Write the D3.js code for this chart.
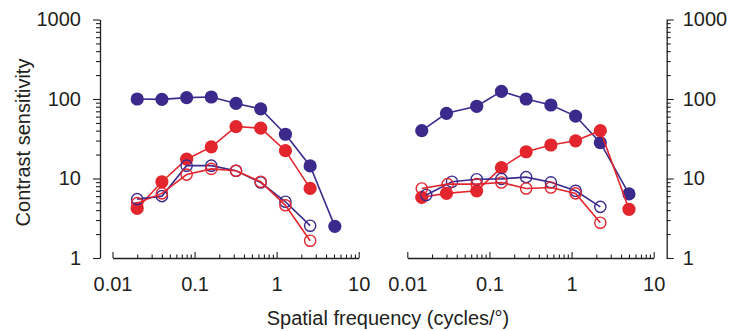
<!DOCTYPE html>
<html>
<head>
<meta charset="utf-8">
<script src="https://cdn.jsdelivr.net/npm/d3@7/dist/d3.min.js"></script>
<style>
  html, body { margin: 0; padding: 0; background: #fff; }
  svg { display: block; }
  text { font-family: "Liberation Sans", Arial, Helvetica, sans-serif; fill: #231f20; }
</style>
</head>
<body>
<svg id="chart" width="729" height="331"></svg>
<script>
// Spatial frequencies (cycles/deg) for each panel
const leftFreq = [0.02, 0.04, 0.08, 0.16, 0.32, 0.64, 1.28, 2.56, 5.12];
const rightFreq = [0.015, 0.03, 0.07, 0.14, 0.28, 0.56, 1.12, 2.24, 5.0];
const rightFreqOpenBlue = [0.017, 0.035, 0.07, 0.14, 0.28, 0.56, 1.12, 2.24];
const rightFreqOpenRed = [0.015, 0.031, 0.07, 0.14, 0.28, 0.56, 1.12, 2.24];

// Contrast sensitivity, left panel
const leftBlueFilled = [100, 99, 104, 106, 88, 75, 36, 14.4, 2.5];
const leftRedFilled = [4.2, 9.1, 17.5, 25, 45, 43, 22.4, 7.5];
const leftBlueOpen = [5.5, 6.0, 14.5, 14.5, 12.5, 8.9, 5.1, 2.55];
const leftRedOpen = [4.9, 6.5, 11.2, 13.2, 12.5, 9.1, 4.6, 1.65];

// Contrast sensitivity, right panel
const rightBlueFilled = [40, 66, 81, 125, 100, 84, 61, 28.2, 6.4];
const rightRedFilled = [5.8, 6.5, 7.0, 13.7, 21.7, 26.4, 29.8, 40, 4.1];
const rightBlueOpen = [6.2, 9.1, 9.8, 9.9, 10.4, 8.95, 7.0, 4.4];
const rightRedOpen = [7.5, 8.5, 8.5, 8.9, 7.5, 7.7, 6.5, 2.78];

// Axis ticks
const xTickLabels = ["0.01", "0.1", "1", "10"];
const xMajor = [0.01, 0.1, 1, 10];
const yTickLabels = ["1", "10", "100", "1000"];
const yMajor = [1, 10, 100, 1000];

const BLUE = "#3b2a8c";
const RED = "#e3262e";
const FONT = 20;

const svg = d3.select("#chart");

const y = d3.scaleLog().domain([1, 1000]).range([258, 19.5]);
const xLeft = d3.scaleLog().domain([0.01, 10]).range([112.5, 358.7]);
const xRight = d3.scaleLog().domain([0.01, 10]).range([407.3, 653.7]);

// minor ticks: 2..9 within each decade
function logTicks(lo, hi) {
  const out = [];
  for (let d = lo; d < hi; d *= 10) {
    for (let k = 1; k < 10; k++) out.push(+(d * k).toPrecision(3));
  }
  out.push(hi);
  return out;
}
const xAll = logTicks(0.01, 10);
const yAll = logTicks(1, 1000);
const isMajor = (list, v) => list.some(m => Math.abs(m - v) / m < 1e-6);

function styleAxis(g) {
  g.selectAll("path.domain").attr("stroke", "#231f20").attr("stroke-width", 1.3);
  g.selectAll(".tick line").attr("stroke", "#231f20").attr("stroke-width", 1.1);
  g.selectAll(".tick text").attr("font-size", FONT).style("font-family", "'Liberation Sans', Arial, sans-serif").attr("fill", "#231f20");
}

function drawXAxis(xs) {
  const ax = d3.axisBottom(xs)
    .tickValues(xAll)
    .tickSizeInner(-6)
    .tickSizeOuter(0)
    .tickPadding(19)
    .tickFormat(d => {
      const i = xMajor.findIndex(m => Math.abs(m - d) / m < 1e-6);
      return i >= 0 ? xTickLabels[i] : "";
    });
  const g = svg.append("g").attr("transform", "translate(0,258)").call(ax);
  g.selectAll(".tick line").attr("y2", d => isMajor(xMajor, d) ? -6 : -3.5);
  styleAxis(g);
}

function drawYAxis(xPos, side) {
  const ax = (side === "left" ? d3.axisLeft(y) : d3.axisRight(y))
    .tickValues(yAll)
    .tickSizeInner(7)
    .tickSizeOuter(0)
    .tickPadding(side === "left" ? 12 : 9)
    .tickFormat(d => {
      const i = yMajor.findIndex(m => Math.abs(m - d) / m < 1e-6);
      return i >= 0 ? yTickLabels[i] : "";
    });
  const g = svg.append("g").attr("transform", `translate(${xPos},0)`).call(ax);
  const sgn = side === "left" ? -1 : 1;
  g.selectAll(".tick line").attr("x2", d => sgn * (isMajor(yMajor, d) ? 7 : 4));
  styleAxis(g);
}

drawYAxis(100, "left");
drawXAxis(xLeft);
drawXAxis(xRight);
drawYAxis(666.7, "right");

function series(xs, freqs, vals, color, filled) {
  const pts = vals.map((v, i) => [freqs[i], v]);
  const line = d3.line().x(d => xs(d[0])).y(d => y(d[1]));
  const g = svg.append("g");
  g.append("path")
    .attr("d", line(pts))
    .attr("fill", "none")
    .attr("stroke", color)
    .attr("stroke-width", 1.6);
  g.selectAll("circle").data(pts).join("circle")
    .attr("cx", d => xs(d[0]))
    .attr("cy", d => y(d[1]))
    .attr("r", filled ? 6.6 : 5.6)
    .attr("fill", filled ? color : "none")
    .attr("stroke", color)
    .attr("stroke-width", filled ? 0 : 1.4);
}

// left panel
series(xLeft, leftFreq, leftBlueFilled, BLUE, true);
series(xLeft, leftFreq, leftRedFilled, RED, true);
series(xLeft, leftFreq, leftBlueOpen, BLUE, false);
series(xLeft, leftFreq, leftRedOpen, RED, false);

// right panel
series(xRight, rightFreq, rightBlueFilled, BLUE, true);
series(xRight, rightFreq, rightRedFilled, RED, true);
series(xRight, rightFreqOpenBlue, rightBlueOpen, BLUE, false);
series(xRight, rightFreqOpenRed, rightRedOpen, RED, false);

// axis titles
svg.append("text")
  .attr("transform", "translate(30,142.5) rotate(-90)")
  .attr("text-anchor", "middle")
  .attr("font-size", FONT)
  .text("Contrast sensitivity");

svg.append("text")
  .attr("x", 388)
  .attr("y", 325)
  .attr("text-anchor", "middle")
  .attr("font-size", FONT)
  .text("Spatial frequency (cycles/°)");
</script>
</body>
</html>
